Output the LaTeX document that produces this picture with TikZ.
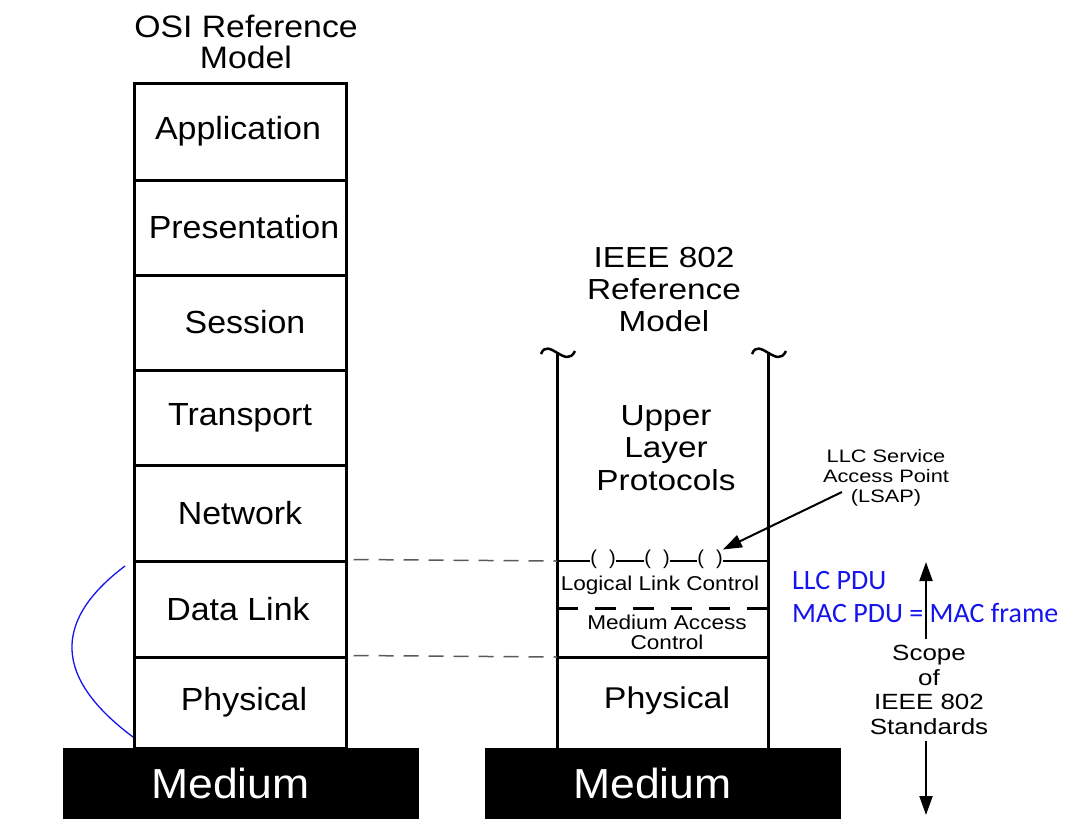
\documentclass[tikz,border=0pt]{standalone}
\usepackage{fontspec}
\setmainfont{Liberation Sans}
\newfontfamily\blufont{Carlito}
\newfontfamily\fA[FakeStretch=1.06]{Liberation Sans}
\newfontfamily\fB[FakeStretch=1.09]{Liberation Sans}
\newfontfamily\fC[FakeStretch=1.15]{Liberation Sans}
\newfontfamily\fD[FakeStretch=1.13]{Liberation Sans}
\newfontfamily\fE[FakeStretch=1.21]{Liberation Sans}
\newfontfamily\fF[FakeStretch=1.18]{Liberation Sans}
\usetikzlibrary{arrows.meta}
\definecolor{pdublue}{RGB}{20,20,235}
\definecolor{dashgray}{RGB}{90,90,90}
\tikzset{
  osibox/.style={draw, line width=3pt, minimum width=212pt, inner sep=0pt, font=\fA\fontsize{32}{32}\selectfont},
  thickln/.style={line width=3pt},
  medbar/.style={fill=black, draw=black, minimum width=355pt, minimum height=70pt, text=white, font=\fA\fontsize{42}{42}\selectfont, inner sep=0pt},
  gdash/.style={draw=dashgray, line width=1.5pt, dash pattern=on 15pt off 10pt},
  bdash/.style={line width=3pt, dash pattern=on 21pt off 17pt},
  title/.style={align=center, inner sep=0pt},
  paren/.style={font=\fontsize{20}{20}\selectfont, inner sep=0pt},
  tip/.style={-{Triangle[length=19pt,width=13pt]}, line width=2pt},
  blu/.style={anchor=west, text=pdublue, inner sep=0pt, font=\blufont\fontsize{28}{28}\selectfont},
}
\begin{document}
\begin{tikzpicture}[x=1pt,y=-1pt]
\useasboundingbox (0,0) rectangle (1076,836);
% OSI stack
\node[title, font=\fB\fontsize{31}{31}\selectfont] (osit) at (246,42) {OSI Reference\\Model};
\node[osibox, minimum height=97pt] (app) at (240,131.5) {\hspace*{-4pt}Application};
\node[osibox, minimum height=95pt] (pres) at (240,227.5) {\hspace*{8pt}Presentation};
\node[osibox, minimum height=95pt] (sess) at (240,322.5) {\hspace*{10pt}Session};
\node[osibox, minimum height=95pt] (trans) at (240,417.5) {Transport};
\node[osibox, minimum height=96pt] (net) at (240,513) {Network};
\node[osibox, minimum height=96pt] (dl) at (240,609) {\hspace*{-4pt}Data Link};
\node[osibox, minimum height=91pt] (phy) at (240,702.5) {\hspace*{8pt}Physical};
\node[medbar] (medl) at (240.5,783) {\hspace*{-20pt}Medium};
\node[medbar] (medr) at (662.5,783) {\hspace*{-20pt}Medium};
% IEEE stack
\node[title, font=\fC\fontsize{29}{32}\selectfont] (ieeet) at (664,290) {IEEE 802\\Reference\\Model};
\coordinate (lt) at (557,352);
\coordinate (rt) at (768,352);
\coordinate (lb) at (557,748);
\coordinate (rb) at (768,748);
\draw[line width=2.5pt] (541,354) .. controls (548,336) and (566,370) .. (575,351);
\draw[line width=2.5pt] (752,354) .. controls (759,336) and (777,370) .. (786,351);
\draw[thickln] (lt) -- (lb);
\draw[thickln] (rt) -- (rb);
\node[title, font=\fC\fontsize{29}{32.5}\selectfont] (ulp) at (666,448) {Upper\\Layer\\Protocols};
% LSAP line
\coordinate (llcl) at (557,561);
\coordinate (llcr) at (768,561);
\node[paren] (p1) at (603,559) {(\hspace{12pt})};
\node[paren] (p2) at (657,559) {(\hspace{12pt})};
\node[paren] (p3) at (710,559) {(\hspace{12pt})};
\draw[line width=2pt] (llcl) -- (p1.west |- llcl) (p1.east |- llcl) -- (p2.west |- llcl)
  (p2.east |- llcl) -- (p3.west |- llcl) (p3.east |- llcl) -- (llcr);
\node[inner sep=0pt, font=\fD\fontsize{20}{20}\selectfont] (llc) at (660,585) {Logical Link Control};
\coordinate (macl) at (557,608);
\coordinate (macr) at (768,608);
\draw[bdash] (macl) -- (macr);
\node[align=center, inner sep=0pt, font=\fD\fontsize{20}{20}\selectfont] (mac) at (667,632) {Medium Access\\Control};
\coordinate (phl) at (557,657);
\coordinate (phr) at (768,657);
\draw[thickln] (phl) -- (phr);
\node[inner sep=0pt, font=\fD\fontsize{30}{30}\selectfont] (phyr) at (667,701) {Physical};
% dashed connectors
\draw[gdash] (dl.north east) ++(6,0) -- (llcl);
\draw[gdash] (phy.north east) ++(6,0) -- (phl);
% LSAP callout
\node[align=center, inner sep=0pt, font=\fE\fontsize{18}{20}\selectfont] (lsap) at (886,478) {LLC Service\\Access Point\\(LSAP)};
\coordinate (lsapst) at (842,492);
\draw[tip] (lsapst) -- (p3.north east);
% blue text
\node[blu] (llcpdu) at (792,581) {LLC PDU};
\node[blu] (macpdu) at (792,613) {MAC PDU = MAC frame};
% scope arrow
\node[align=center, inner sep=0pt, font=\fF\fontsize{22}{24.7}\selectfont] (scope) at (929,690) {Scope\\of\\IEEE 802\\Standards};
\coordinate (scopetop) at (926,562);
\coordinate (scopebot) at (926,815);
\draw[tip] (scope.north -| scopetop) ++(0,-6) -- (scopetop);
\draw[tip] (scope.south -| scopebot) ++(0,6) -- (scopebot);
% blue curve
\draw[pdublue, line width=1.3pt] (125,566) .. controls (52,621) and (54,678) .. (133,737);
\end{tikzpicture}
\end{document}
